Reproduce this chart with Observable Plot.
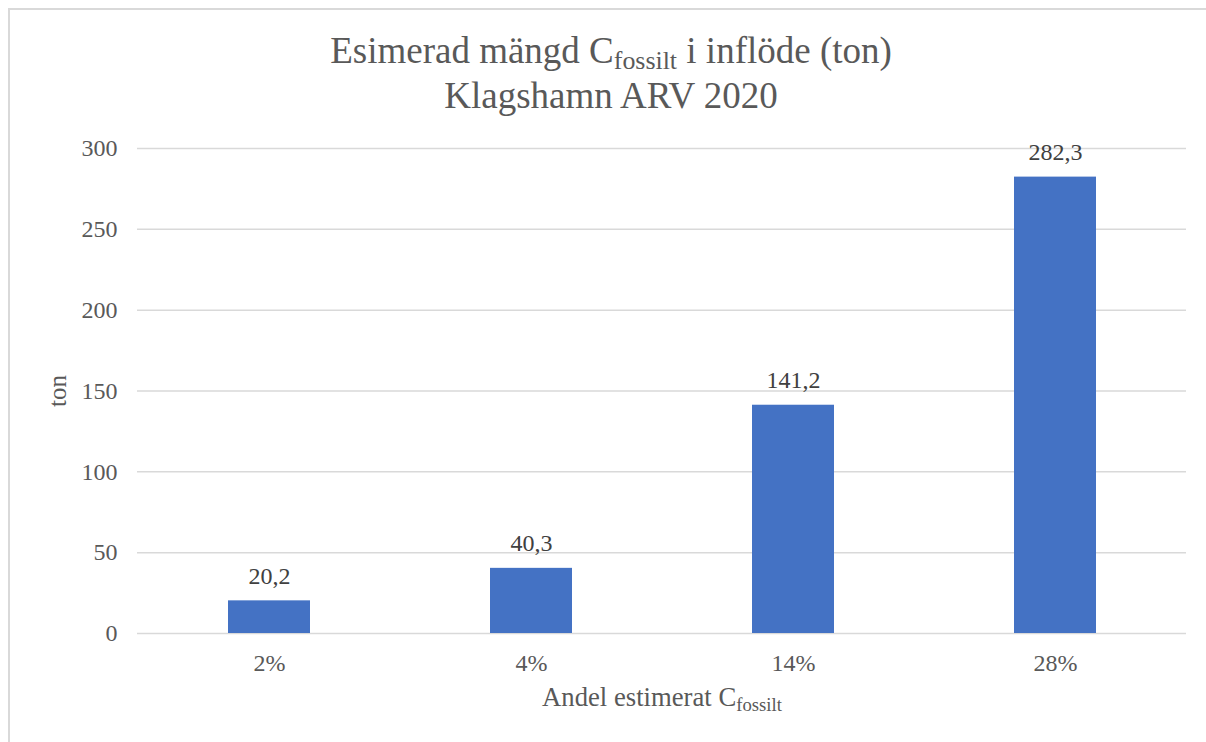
<!DOCTYPE html>
<html>
<head>
<meta charset="utf-8">
<script src="https://cdn.jsdelivr.net/npm/d3@7"></script>
<script src="https://cdn.jsdelivr.net/npm/@observablehq/plot@0.6"></script>
<style>
  html, body { margin: 0; padding: 0; background: #fff; }
  #wrap { position: relative; width: 1206px; height: 742px; overflow: hidden; font-family: "Liberation Serif", "Times New Roman", serif; background: #fff; }
  #frame { position: absolute; left: 8px; top: 8px; width: 1400px; height: 900px; border: 2px solid #d9d9d9; box-sizing: border-box; }
  .tline { position: absolute; left: 311px; width: 600px; text-align: center; color: #595959; font-size: 37px; line-height: 37px; white-space: nowrap; }
  .sub { font-size: 0.7em; position: relative; top: 0.25em; }
  #xtitle { position: absolute; left: 362px; width: 600px; top: 684px; text-align: center; color: #595959; font-size: 26.7px; line-height: 26.7px; white-space: nowrap; }
  #chart { position: absolute; left: 0; top: 120px; }
</style>
</head>
<body>
<div id="wrap">
  <div id="frame"></div>
  <div class="tline" style="top:32px">Esimerad mängd C<span class="sub">fossilt</span> i inflöde (ton)</div>
  <div class="tline" style="top:77px">Klagshamn ARV 2020</div>
  <div id="chart"></div>
  <div id="xtitle">Andel estimerat C<span class="sub">fossilt</span></div>
</div>
<script>
const categories = ["2%", "4%", "14%", "28%"];
const values = [20.2, 40.3, 141.2, 282.3];
const yTicks = [0, 50, 100, 150, 200, 250, 300];
const yLabel = "ton";

const data = categories.map((c, i) => ({ category: c, value: values[i] }));
const fmt = v => v.toFixed(1).replace(".", ",");

const chart = Plot.plot({
  width: 1206,
  height: 622,
  marginTop: 28,
  marginBottom: 109,
  marginLeft: 137,
  marginRight: 20,
  style: { fontFamily: "Liberation Serif, Times New Roman, serif", background: "transparent" },
  x: { domain: categories, padding: 0 },
  y: { domain: [0, 300] },
  marks: [
    Plot.ruleY(yTicks, { stroke: "#d9d9d9", strokeWidth: 1.5 }),
    Plot.barY(data, { x: "category", y: "value", fill: "#4472C4", insetLeft: 90, insetRight: 90 }),
    Plot.text(data, { x: "category", y: "value", text: d => fmt(d.value), dy: -17, lineAnchor: "bottom", fontSize: 24, fill: "#404040" }),
    Plot.axisY({ ticks: yTicks, tickSize: 0, tickPadding: 20, fontSize: 24, color: "#595959", label: yLabel, labelAnchor: "center", labelArrow: "none", labelOffset: 89 }),
    Plot.axisX({ tickSize: 0, tickPadding: 20, fontSize: 24, color: "#595959", label: null })
  ]
});
chart.querySelectorAll("g[aria-label='y-axis label'] text").forEach(t => t.setAttribute("font-size", "25"));
document.getElementById("chart").appendChild(chart);
</script>
</body>
</html>
